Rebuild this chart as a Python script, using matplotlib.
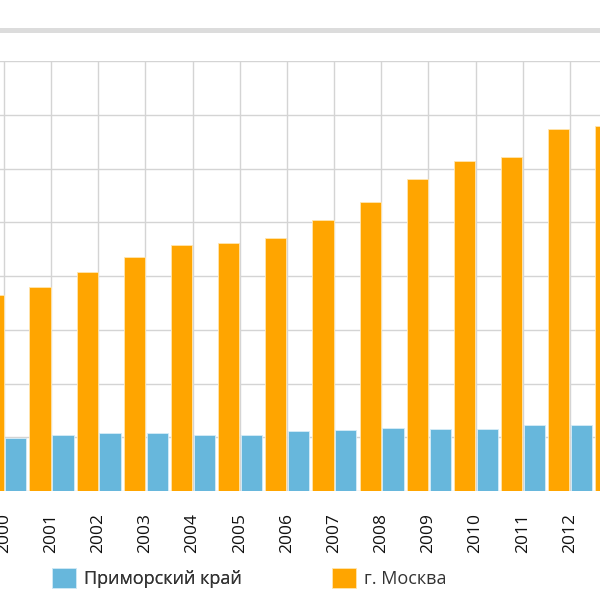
import matplotlib.pyplot as plt
from matplotlib.patches import Rectangle
import numpy as np

# данные (единицы условные: 1 линия сетки = 10)
years = ['2000', '2001', '2002', '2003', '2004', '2005', '2006',
         '2007', '2008', '2009', '2010', '2011', '2012', '2013']
moscow = [36.5, 38.0, 40.7, 43.5, 45.7, 46.1, 47.1,
          50.4, 53.8, 58.0, 61.4, 62.2, 67.3, 67.9]
primorye = [9.8, 10.4, 10.7, 10.7, 10.5, 10.4, 11.2,
            11.3, 11.7, 11.5, 11.6, 12.3, 12.3]

c_blue = '#67b7dc'
c_orange = '#ffa500'

plt.rcParams['font.family'] = ['Open Sans', 'DejaVu Sans']

fig = plt.figure(figsize=(6, 6), dpi=100)
# график обрезан по краям, поэтому оси шире видимой области
ax = fig.add_axes([0, 109 / 600, 1, 430 / 600])

x = np.arange(len(years))
w = 0.45
ax.bar(x[:len(moscow)] - 0.235, moscow, width=w, color=c_orange,
       edgecolor='#ffe6b0', linewidth=0.6, label='г. Москва', zorder=3)
ax.bar(x[:len(primorye)] + 0.25, primorye, width=w, color=c_blue,
       edgecolor='#d6ecf7', linewidth=0.6, label='Приморский край', zorder=3)

ax.set_xticks(x)
ax.set_xticklabels(years, rotation=90, fontsize=12.5, color='#111111')
ax.set_yticks(np.arange(0, 81, 10))
ax.set_yticklabels([])
# пределы после тиков, иначе set_xticks их расширит
ax.set_xlim(-4 / 47.15, 596 / 47.15)
ax.set_ylim(0, 80)
ax.tick_params(axis='both', length=0)
ax.tick_params(axis='x', pad=16)
ax.grid(True, color='#d4d4d4', linewidth=1, zorder=0)
for s in ax.spines.values():
    s.set_visible(False)

# серая полоса сверху
fig.add_artist(Rectangle((0, (600 - 32.5) / 600), 1, 4 / 600,
                         transform=fig.transFigure, color='#dcdcdc', lw=0))

# легенда — два отдельных элемента
h, l = ax.get_legend_handles_labels()
leg_kw = dict(frameon=False, fontsize=13, handlelength=1.35, handleheight=1.35,
              handletextpad=0.4, borderpad=0, borderaxespad=0,
              loc='center left', labelcolor='#333333')
leg1 = fig.legend([h[1]], [l[1]], bbox_to_anchor=(52 / 600, 1 - 578 / 600), **leg_kw)
fig.add_artist(leg1)
fig.legend([h[0]], [l[0]], bbox_to_anchor=(332 / 600, 1 - 578 / 600), **leg_kw)

fig.savefig('out.png', dpi=100)
